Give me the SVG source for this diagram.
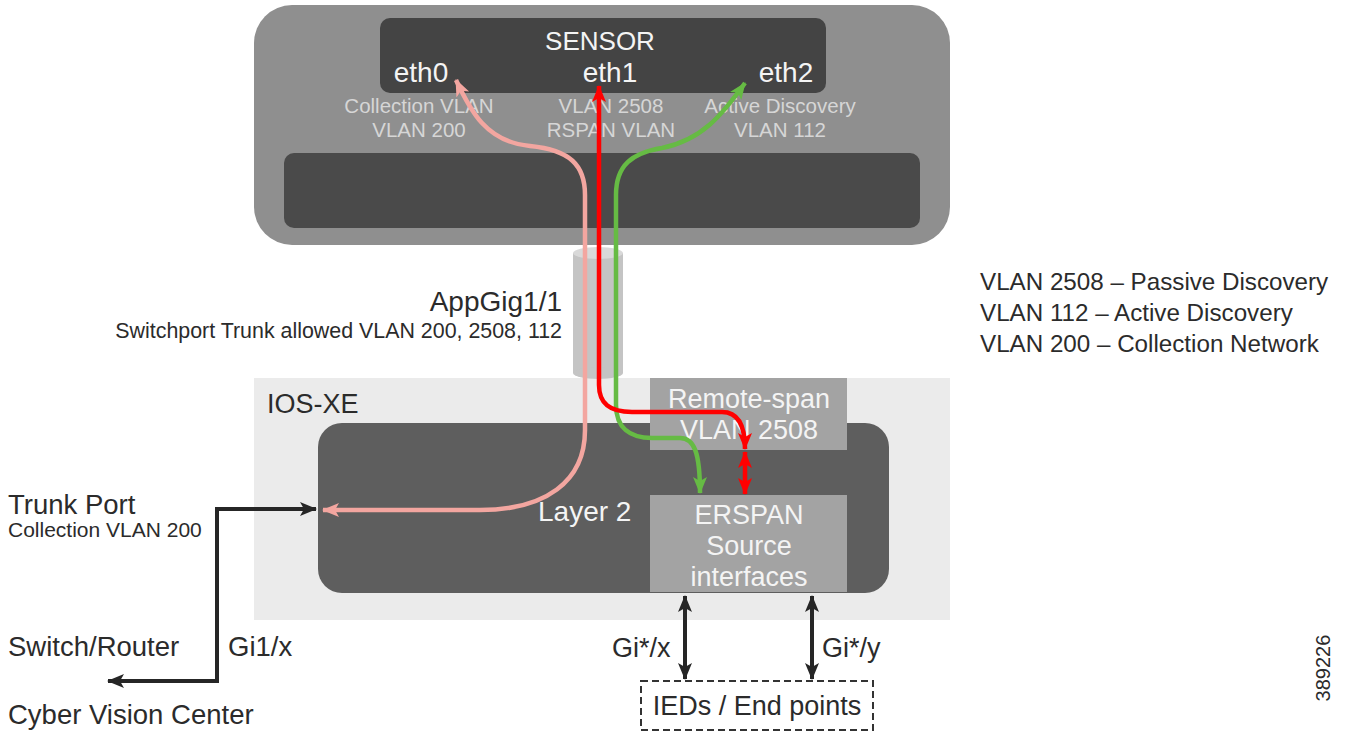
<svg xmlns="http://www.w3.org/2000/svg" width="1345" height="732" viewBox="0 0 1345 732">
<style>
text{font-family:"Liberation Sans",Arial,sans-serif}
.dk{fill:#2b2b2b}
.wt{fill:#f4f4f4}
.lt{fill:#d6d6d6}
.blk{fill:none;stroke:#262626;stroke-width:4}
</style>
<defs>
<marker id="ab" markerUnits="userSpaceOnUse" markerWidth="19" markerHeight="17" refX="16" refY="8.5" orient="auto-start-reverse"><path d="M0,1.5 L17,8.5 L0,15.5 L4,8.5 Z" fill="#262626"/></marker>
<marker id="ar" markerUnits="userSpaceOnUse" markerWidth="19" markerHeight="17" refX="16" refY="8.5" orient="auto-start-reverse"><path d="M0,1.5 L17,8.5 L0,15.5 L4,8.5 Z" fill="#ff0000"/></marker>
<marker id="ag" markerUnits="userSpaceOnUse" markerWidth="19" markerHeight="17" refX="16" refY="8.5" orient="auto-start-reverse"><path d="M0,1.5 L17,8.5 L0,15.5 L4,8.5 Z" fill="#66bb44"/></marker>
<marker id="ap" markerUnits="userSpaceOnUse" markerWidth="19" markerHeight="17" refX="16" refY="8.5" orient="auto-start-reverse"><path d="M0,1.5 L17,8.5 L0,15.5 L4,8.5 Z" fill="#f3a6a0"/></marker>
</defs>
<rect width="1345" height="732" fill="#ffffff"/>

<g id="sensor">
<rect x="254" y="5" width="696" height="240" rx="38" fill="#8f8f8f"/>
<rect x="380" y="18" width="446" height="75" rx="10" fill="#444444"/>
<rect x="284" y="153" width="636" height="75" rx="10" fill="#4a4a4a"/>
<text x="600" y="50" font-size="26" text-anchor="middle" class="wt">SENSOR</text>
<text x="421" y="82" font-size="28" text-anchor="middle" class="wt">eth0</text>
<text x="610" y="82" font-size="28" text-anchor="middle" class="wt">eth1</text>
<text x="786" y="82" font-size="28" text-anchor="middle" class="wt">eth2</text>
<text x="419" y="113" font-size="20.5" text-anchor="middle" class="lt">Collection VLAN</text>
<text x="419" y="137" font-size="20.5" text-anchor="middle" class="lt">VLAN 200</text>
<text x="611" y="113" font-size="20.5" text-anchor="middle" class="lt">VLAN 2508</text>
<text x="611" y="137" font-size="20.5" text-anchor="middle" class="lt">RSPAN VLAN</text>
<text x="780" y="113" font-size="20.5" text-anchor="middle" class="lt">Active Discovery</text>
<text x="780" y="137" font-size="20.5" text-anchor="middle" class="lt">VLAN 112</text>
</g>

<g id="ios-xe">
<rect x="254" y="378" width="696" height="242" fill="#ebebeb"/>
<text x="267" y="413" font-size="27" class="dk">IOS-XE</text>
</g>

<g id="appgig">
<rect x="573" y="253" width="50" height="120" fill="#c4c4c4"/>
<ellipse cx="598" cy="373" rx="25" ry="6" fill="#c4c4c4"/>
<ellipse cx="598" cy="253" rx="25" ry="6" fill="#d9d9d9"/>
<text x="562" y="311" font-size="28" text-anchor="end" class="dk">AppGig1/1</text>
<text x="562" y="338" font-size="21.4" text-anchor="end" class="dk">Switchport Trunk allowed VLAN 200, 2508, 112</text>
</g>

<g id="layer2">
<rect x="318" y="423" width="571" height="170" rx="24" fill="#5e5e5e"/>
<text x="538" y="521" font-size="28" class="wt">Layer 2</text>
</g>

<g id="remote-span">
<rect x="650" y="378" width="197" height="72" fill="#a3a3a3"/>
<text x="749" y="408" font-size="27" text-anchor="middle" class="wt">Remote-span</text>
<text x="749" y="439" font-size="27" text-anchor="middle" class="wt">VLAN 2508</text>
</g>

<g id="erspan">
<rect x="650" y="495" width="197" height="97" fill="#a3a3a3"/>
<text x="749" y="524" font-size="27" text-anchor="middle" class="wt">ERSPAN</text>
<text x="749" y="555" font-size="27" text-anchor="middle" class="wt">Source</text>
<text x="749" y="586" font-size="27" text-anchor="middle" class="wt">interfaces</text>
</g>

<g id="ieds">
<rect x="641" y="681" width="232" height="49" fill="none" stroke="#333333" stroke-width="2" stroke-dasharray="7,4"/>
<text x="757" y="715" font-size="27" text-anchor="middle" class="dk">IEDs / End points</text>
</g>

<g id="left-labels">
<text x="8" y="514" font-size="27.5" class="dk">Trunk Port</text>
<text x="8" y="537" font-size="21" class="dk">Collection VLAN 200</text>
<text x="8" y="656" font-size="27.5" class="dk">Switch/Router</text>
<text x="8" y="724" font-size="27.5" class="dk">Cyber Vision Center</text>
<text x="228" y="656" font-size="27.5" class="dk">Gi1/x</text>
<text x="612" y="657" font-size="27" class="dk">Gi*/x</text>
<text x="822" y="657" font-size="27" class="dk">Gi*/y</text>
</g>

<g id="legend">
<text x="980" y="290" font-size="24.2" class="dk">VLAN 2508 – Passive Discovery</text>
<text x="980" y="321" font-size="24.2" class="dk">VLAN 112 – Active Discovery</text>
<text x="980" y="352" font-size="24.2" class="dk">VLAN 200 – Collection Network</text>
<text x="1330" y="668" font-size="20" text-anchor="middle" class="dk" transform="rotate(-90 1330 668)">389226</text>
</g>

<g id="connectors">
<path d="M456,80 C470,110 486,142 530,146 C570,150 585,165 585,195 L585,430 C585,482 545,510 480,510 L323,510" fill="none" stroke="#f3a6a0" stroke-width="4.5" marker-start="url(#ap)" marker-end="url(#ap)"/>
<path d="M745,83 C722,115 702,140 662,148 C632,153 616,165 616,195 L616,405 C616,428 630,438 652,438 L680,438 C694,438 700,452 700,493" fill="none" stroke="#66bb44" stroke-width="4.5" marker-start="url(#ag)" marker-end="url(#ag)"/>
<path d="M599,86 L599,385 C599,404 610,412 632,412 L722,412 C738,412 745,425 745,449" fill="none" stroke="#ff0000" stroke-width="4.5" marker-start="url(#ar)" marker-end="url(#ar)"/>
<path d="M745,452 L745,494" fill="none" stroke="#ff0000" stroke-width="4.5" marker-start="url(#ar)" marker-end="url(#ar)"/>
<path d="M316,509 L217,509 L217,681 L108,681" class="blk" marker-start="url(#ab)" marker-end="url(#ab)"/>
<path d="M685,596 L685,679" class="blk" marker-start="url(#ab)" marker-end="url(#ab)"/>
<path d="M812,596 L812,679" class="blk" marker-start="url(#ab)" marker-end="url(#ab)"/>
</g>
</svg>
